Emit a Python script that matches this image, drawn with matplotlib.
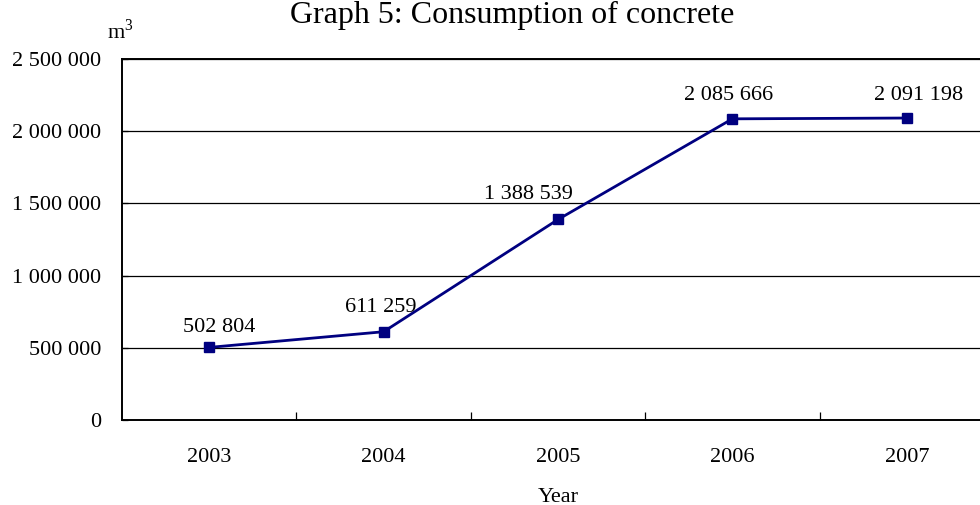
import matplotlib
matplotlib.use('Agg')
import matplotlib.pyplot as plt
from matplotlib.ticker import FuncFormatter, FixedLocator

# Consumption of concrete, m3 per year
years = ['2003', '2004', '2005', '2006', '2007']
consumption = [502804, 611259, 1388539, 2085666, 2091198]
point_labels = ['502 804', '611 259', '1 388 539', '2 085 666', '2 091 198']
yticks = [0, 500000, 1000000, 1500000, 2000000, 2500000]

# hand placed data labels (offset in points from the marker, to the baseline)
label_offsets = [(7, 11), (-2, 14.5), (-21, 15), (-3, 13.7), (8.5, 13)]

plt.rcParams['font.family'] = ['Liberation Serif', 'DejaVu Serif']
plt.rcParams['mathtext.fontset'] = 'custom'
plt.rcParams['mathtext.rm'] = 'Liberation Serif'


def space_thousands(v, pos=None):
    return f'{int(v):,}'.replace(',', ' ')


fig = plt.figure(figsize=(9.8, 5.05), dpi=100)
# axes runs past the right edge, like in the original document crop
ax = fig.add_axes([122 / 980, 85 / 505, 872 / 980, 361 / 505])

x = list(range(len(years)))
ax.plot(x, consumption, color='#000080', linewidth=2.0, marker='s',
        markersize=6.5, clip_on=False, zorder=3)

for xi, yi, lab, off in zip(x, consumption, point_labels, label_offsets):
    ax.annotate(lab, (xi, yi), xytext=off, textcoords='offset points',
                ha='center', va='baseline', fontsize=16)

ax.set_xlim(-0.5, len(years) - 0.5)
ax.set_ylim(0, 2500000)
ax.set_yticks(yticks)
ax.yaxis.set_major_formatter(FuncFormatter(space_thousands))
ax.set_xticks(x)
ax.set_xticklabels(years)
ax.xaxis.set_minor_locator(FixedLocator([i + 0.5 for i in range(len(years) - 1)]))

ax.grid(axis='y', color='black', linewidth=0.9)
ax.set_axisbelow(True)
ax.tick_params(axis='x', which='major', length=0, pad=20, labelsize=16)
ax.tick_params(axis='x', which='minor', direction='in', length=6, width=0.9)
ax.tick_params(axis='y', direction='in', length=4, width=0.9, pad=15, labelsize=16)

for s in ['left', 'bottom', 'top', 'right']:
    ax.spines[s].set_linewidth(1.4)
    ax.spines[s].set_color('black')

ax.set_xlabel('Year', fontsize=16, labelpad=15)

fig.text(512 / 980, 1 - 23 / 505, 'Graph 5: Consumption of concrete',
         ha='center', va='baseline', fontsize=23)
fig.text(107 / 980, 1 - 39 / 505, 'm$^{3}$', ha='left', va='baseline', fontsize=16)

fig.savefig('out.png', dpi=100)
